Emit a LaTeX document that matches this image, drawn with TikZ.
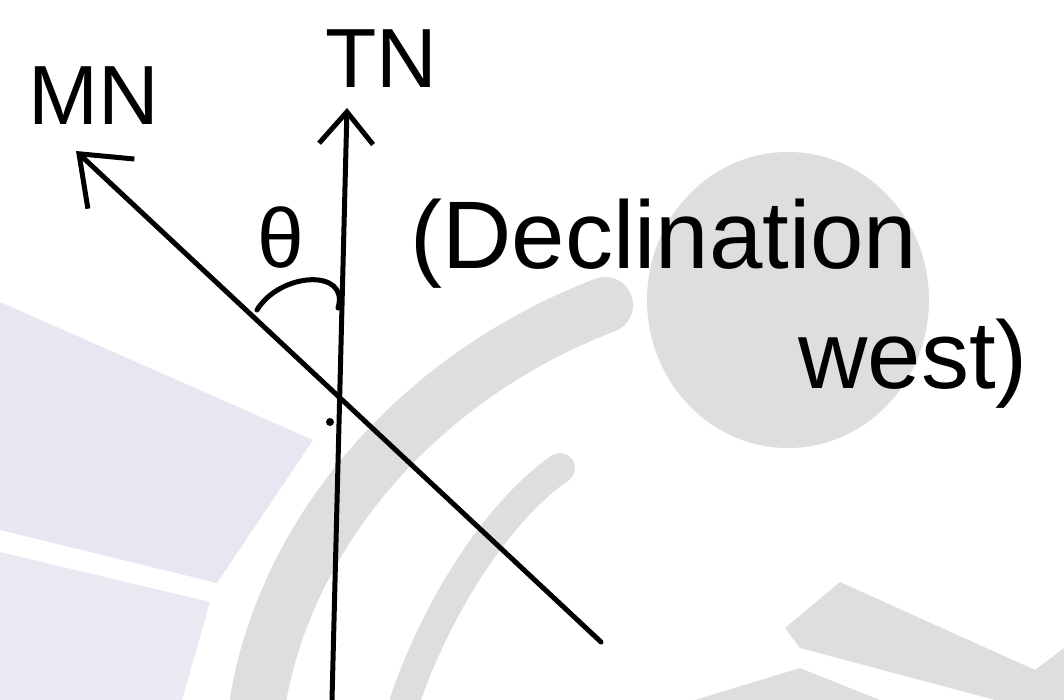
\documentclass[tikz,border=0pt]{standalone}
\usepackage{fontspec}
\setmainfont{Liberation Sans}
\usetikzlibrary{arrows.meta}
\definecolor{marklav}{RGB}{231,231,242}
\definecolor{marklavb}{RGB}{236,232,242}
\definecolor{markgray}{RGB}{222,222,222}
\tikzset{
  pen/.style={line width=2.5pt, line cap=round, line join=round},
  lbl/.style={inner sep=0pt, anchor=base west, font=\fontsize{42}{44}\selectfont},
  note/.style={inner sep=0pt, anchor=base west, font=\fontsize{48}{50}\selectfont},
}
\begin{document}
\begin{tikzpicture}[x=0.5pt,y=-0.5pt]
  \useasboundingbox (0,0) rectangle (1064,700);
  % faint logo behind the sketch
  \fill[marklav] (0,302) -- (313,440) -- (217,583) -- (0,530) -- cycle;
  \fill[marklavb] (0,552) -- (210,602) -- (182,700) -- (0,700) -- cycle;
  \fill[markgray] (788,300) ellipse (141 and 148);
  \draw[markgray, line width=28pt, line cap=round] (258,700) .. controls (285,540) and (410,380) .. (605,305);
  \draw[markgray, line width=15pt, line cap=round] (405,700) .. controls (440,600) and (500,510) .. (560,468);
  \fill[markgray] (785,628) -- (840,582) -- (1035,670) -- (1064,648) -- (1064,700)
    -- (995,700) -- (800,648) -- cycle;
  \fill[markgray] (695,700) -- (800,668) -- (880,700) -- cycle;

  % true north and magnetic north
  \coordinate (tnfoot) at (332,700);
  \coordinate (tntip) at (347,108);
  \coordinate (mnfoot) at (601,642);
  \coordinate (mntip) at (76,151);
  \draw[pen, -{Straight Barb[length=16pt,width=27pt]}] (tnfoot) -- (tntip);
  \draw[pen, -{Straight Barb[length=22pt,width=34pt]}] (mnfoot) -- (mntip);

  % angle mark
  \draw[pen] (257,310) .. controls (280,272) and (350,268) .. (338,308);
  \fill (330,422) circle (4);

  % labels
  \node[lbl] (mn) at (28,125) {MN};
  \node[lbl] (tn) at (325,88) {TN};
  \node[lbl] (theta) at (257,267) {θ};
  \node[note] (decl) at (410,268) {(Declination};
  \node[note] (west) at (798,388) {west)};
\end{tikzpicture}
\end{document}
